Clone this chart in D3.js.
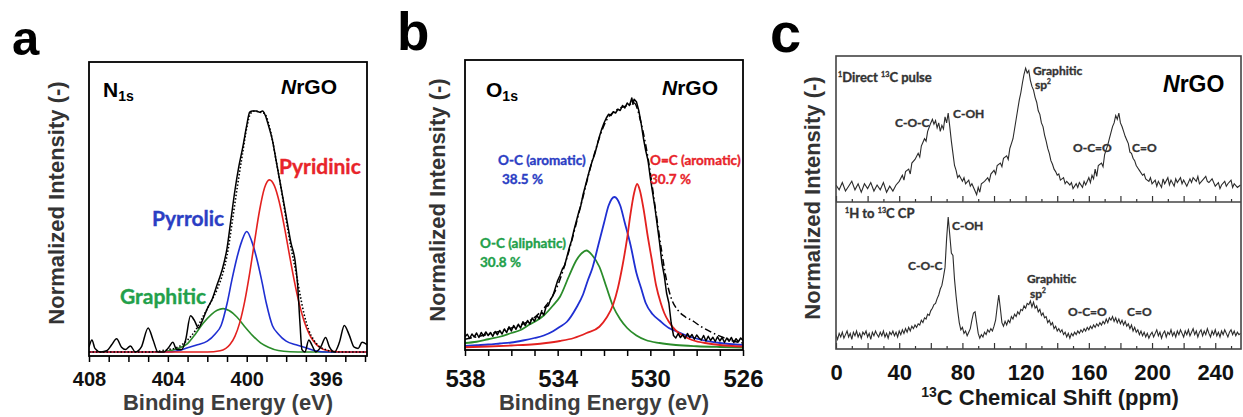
<!DOCTYPE html>
<html lang="en">
<head>
<meta charset="utf-8">
<title>NrGO: N1s / O1s XPS and 13C NMR</title>
<script src="https://cdn.jsdelivr.net/npm/d3@7"></script>
<style>
  body { margin: 0; background: #fff; }
  svg { display: block; }
  .arial { font-family: "Liberation Sans", Arial, sans-serif; font-weight: bold; }
  .cal { font-family: Lato, "Open Sans", sans-serif; font-weight: 700; paint-order: stroke; stroke-width: 0.35px; }
</style>
</head>
<body>
<script>

// ---------- panel a : N1s XPS (binding energy eV, normalized intensity) ----------
let aTicks = [408, 404, 400, 396];
let aExp = [[408.0,0.02],[407.85,0.05],[407.7,0.015],[407.4,0.0],[407.1,0.005],[406.85,0.03],[406.6,0.055],[406.35,0.02],[406.15,0.01],[405.9,0.025],[405.65,0.0],[405.35,0.02],[405.0,0.10],[404.75,0.05],[404.5,0.0],[404.2,0.0],[403.95,0.02],[403.75,0.04],[403.55,0.01],[403.3,0.01],[403.1,0.05],[402.85,0.15],[402.65,0.13],[402.45,0.10],[402.25,0.13],[402.0,0.18],[401.75,0.22],[401.5,0.28],[401.25,0.34],[401.0,0.43],[400.8,0.55],[400.6,0.67],[400.4,0.77],[400.2,0.85],[400.0,0.94],[399.85,0.995],[399.7,1.0],[399.5,1.0],[399.35,0.995],[399.2,1.0],[399.05,0.98],[398.9,0.94],[398.7,0.88],[398.5,0.79],[398.3,0.70],[398.1,0.61],[397.95,0.54],[397.75,0.45],[397.55,0.38],[397.42,0.28],[397.3,0.12],[397.2,0.01],[397.05,0.0],[396.85,0.05],[396.7,0.03],[396.5,0.0],[396.25,0.02],[396.0,0.06],[395.8,0.02],[395.55,0.0],[395.3,0.04],[395.05,0.11],[394.8,0.07],[394.55,0.02],[394.35,0.015],[394.15,0.04],[393.9,0.03]];
let aFit = [[408,0],[405,0],[404,0.01],[403.5,0.02],[403,0.05],[402.6,0.09],[402.2,0.15],[401.8,0.21],[401.5,0.26],[401.2,0.33],[401.0,0.40],[400.7,0.56],[400.45,0.70],[400.2,0.83],[400.0,0.93],[399.8,0.99],[399.6,1.0],[399.35,0.995],[399.1,0.99],[398.9,0.95],[398.7,0.88],[398.5,0.79],[398.3,0.70],[398.1,0.60],[397.9,0.50],[397.7,0.41],[397.5,0.33],[397.3,0.24],[397.1,0.16],[396.85,0.09],[396.6,0.05],[396.35,0.025],[396.0,0.01],[395.5,0],[393.9,0]];
let aPyridinic = [[408,0],[402,0],[401.35,0.005],[400.85,0.031],[400.6,0.065],[400.35,0.123],[400.1,0.211],[399.85,0.327],[399.6,0.460],[399.35,0.587],[399.1,0.680],[398.85,0.714],[398.6,0.690],[398.35,0.622],[398.1,0.523],[397.85,0.410],[397.6,0.300],[397.35,0.205],[397.1,0.131],[396.85,0.078],[396.35,0.022],[395.85,0.005],[395,0],[393.9,0]];
let aPyrrolic = [[408,0],[404,0],[403.5,0.005],[403.0,0.018],[402.5,0.03],[402.0,0.045],[401.6,0.075],[401.3,0.11],[401.0,0.20],[400.75,0.30],[400.5,0.39],[400.25,0.46],[400.0,0.50],[399.75,0.46],[399.5,0.39],[399.25,0.30],[399.0,0.20],[398.7,0.11],[398.4,0.075],[398.0,0.045],[397.5,0.03],[397.0,0.018],[396.5,0.005],[396.0,0],[393.9,0]];
let aGraphitic = [[408,0],[404.5,0],[404,0.004],[403.5,0.015],[403,0.035],[402.6,0.075],[402.2,0.12],[401.8,0.155],[401.5,0.173],[401.2,0.18],[400.9,0.172],[400.5,0.145],[400.1,0.105],[399.7,0.068],[399.3,0.038],[398.9,0.02],[398.4,0.006],[397.8,0.001],[397,0],[393.9,0]];

// ---------- panel b : O1s XPS ----------
let bTicks = [538, 534, 530, 526];
let bExp = [[538.0,0.045],[537.9,0.055],[537.8,0.038],[537.7,0.056],[537.6,0.044],[537.5,0.06],[537.4,0.042],[537.3,0.062],[537.2,0.048],[537.1,0.064],[537.0,0.05],[536.9,0.062],[536.8,0.047],[536.7,0.066],[536.6,0.053],[536.5,0.07],[536.4,0.056],[536.3,0.076],[536.2,0.062],[536.1,0.085],[536.0,0.068],[535.9,0.09],[535.8,0.075],[535.7,0.095],[535.6,0.08],[535.5,0.105],[535.4,0.09],[535.3,0.11],[535.2,0.096],[535.1,0.12],[535.0,0.107],[534.9,0.13],[534.8,0.117],[534.7,0.145],[534.6,0.132],[534.5,0.165],[534.4,0.17],[534.3,0.195],[534.2,0.21],[534.1,0.24],[534.0,0.27],[533.9,0.29],[533.8,0.315],[533.7,0.33],[533.6,0.365],[533.5,0.4],[533.4,0.43],[533.3,0.47],[533.2,0.505],[533.1,0.54],[533.0,0.57],[532.9,0.615],[532.8,0.65],[532.7,0.685],[532.6,0.72],[532.5,0.75],[532.4,0.775],[532.3,0.81],[532.2,0.845],[532.1,0.875],[532.0,0.9],[531.9,0.92],[531.8,0.935],[531.7,0.93],[531.6,0.945],[531.5,0.94],[531.4,0.955],[531.3,0.95],[531.2,0.97],[531.1,0.96],[531.0,0.98],[530.9,0.97],[530.8,1.0],[530.75,0.975],[530.7,0.995],[530.6,0.985],[530.5,0.95],[530.4,0.9],[530.3,0.84],[530.2,0.79],[530.1,0.75],[530.0,0.68],[529.9,0.62],[529.8,0.56],[529.7,0.49],[529.6,0.42],[529.5,0.34],[529.4,0.29],[529.3,0.22],[529.2,0.18],[529.1,0.1],[529.0,0.05],[528.9,0.04],[528.8,0.058],[528.7,0.042],[528.6,0.054],[528.5,0.038],[528.4,0.058],[528.3,0.042],[528.2,0.054],[528.1,0.035],[528.0,0.052],[527.9,0.04],[527.8,0.032],[527.7,0.05],[527.6,0.028],[527.5,0.047],[527.4,0.03],[527.3,0.043],[527.2,0.026],[527.1,0.045],[527.0,0.028],[526.9,0.042],[526.8,0.022],[526.7,0.04],[526.6,0.027],[526.5,0.042],[526.4,0.022],[526.3,0.037],[526.2,0.025],[526.1,0.04],[526.0,0.03]];
let bFit = [[538,0.035],[537,0.055],[536,0.08],[535.3,0.105],[534.9,0.13],[534.5,0.17],[534.0,0.25],[533.6,0.36],[533.0,0.57],[532.5,0.75],[531.9,0.91],[531.5,0.95],[531.0,0.97],[530.7,0.98],[530.4,0.9],[530.1,0.76],[529.8,0.57],[529.5,0.38],[529.3,0.27],[529.1,0.2],[528.8,0.15],[528.5,0.125],[528.2,0.11],[527.8,0.085],[527.3,0.06],[526.8,0.04],[526.3,0.025],[526,0.02]];
let bOCaromatic = [[538,0.008],[537.5,0.011],[537,0.014],[536.5,0.018],[536,0.022],[535.5,0.03],[535,0.04],[534.6,0.05],[534.2,0.067],[533.9,0.085],[533.6,0.105],[533.2,0.16],[532.9,0.215],[532.7,0.27],[532.5,0.32],[532.25,0.41],[532.0,0.50],[531.8,0.57],[531.55,0.604],[531.3,0.57],[531.1,0.50],[530.85,0.41],[530.6,0.30],[530.4,0.24],[530.2,0.18],[529.9,0.135],[529.6,0.11],[529.2,0.08],[528.9,0.068],[528.45,0.05],[527.9,0.035],[527.0,0.02],[526.0,0.012]];
let bOdCaromatic = [[538,0.003],[537,0.006],[536,0.01],[535,0.015],[534.5,0.02],[533.9,0.028],[533.3,0.04],[532.75,0.06],[532.2,0.085],[531.9,0.12],[531.6,0.175],[531.4,0.24],[531.2,0.33],[531.0,0.44],[530.85,0.54],[530.7,0.62],[530.57,0.656],[530.45,0.63],[530.3,0.56],[530.1,0.44],[529.95,0.36],[529.75,0.25],[529.55,0.18],[529.4,0.14],[529.2,0.105],[528.9,0.07],[528.5,0.045],[528.2,0.032],[527.5,0.018],[527,0.012],[526,0.006]];
let bOCaliphatic = [[538,0.02],[537.5,0.025],[537,0.035],[536.5,0.045],[536,0.06],[535.6,0.072],[535.2,0.095],[534.9,0.11],[534.6,0.13],[534.2,0.17],[533.9,0.205],[533.5,0.29],[533.2,0.35],[532.95,0.38],[532.76,0.39],[532.5,0.37],[532.2,0.325],[531.9,0.245],[531.6,0.165],[531.3,0.115],[531.0,0.08],[530.6,0.05],[530.2,0.032],[529.6,0.02],[528.9,0.012],[528,0.007],[527,0.004],[526,0.002]];

// ---------- panel c : 13C NMR (ppm, intensity) ----------
let cTicks = [0, 40, 80, 120, 160, 200, 240];
let cDirect = [[0,0.04],[2,0.0],[4,0.06],[6,-0.01],[8,0.03],[10,0.07],[12,0.0],[14,0.05],[16,-0.02],[18,0.05],[20,0.01],[22,0.06],[24,-0.01],[26,0.04],[28,0.0],[30,0.06],[32,-0.02],[34,0.03],[36,-0.01],[38,0.04],[40,0.07],[42,0.12],[43,0.08],[44,0.15],[46,0.17],[47,0.13],[48,0.22],[50,0.25],[52,0.30],[53,0.27],[54,0.36],[56,0.42],[57,0.40],[58,0.48],[60,0.55],[61,0.58],[62,0.54],[63,0.57],[64,0.51],[65,0.55],[66,0.48],[67,0.53],[68,0.50],[69,0.60],[70,0.55],[71,0.63],[72,0.52],[73,0.40],[74,0.30],[75,0.20],[76,0.16],[77,0.10],[78,0.12],[80,0.07],[81,0.10],[82,0.05],[84,0.08],[85,0.03],[86,0.05],[88,-0.01],[89,-0.04],[90,0.02],[91,-0.02],[92,0.05],[94,0.07],[96,0.10],[97,0.07],[98,0.13],[100,0.16],[101,0.13],[102,0.20],[104,0.22],[105,0.19],[106,0.26],[108,0.28],[109,0.25],[110,0.34],[111,0.38],[112,0.42],[113,0.50],[114,0.58],[115,0.66],[116,0.74],[117,0.80],[118,0.88],[119,0.95],[120,1.0],[121,0.96],[122,0.98],[123,0.90],[124,0.85],[125,0.82],[126,0.76],[127,0.72],[128,0.65],[129,0.62],[130,0.55],[131,0.52],[132,0.45],[133,0.40],[134,0.34],[135,0.30],[136,0.24],[137,0.21],[138,0.17],[139,0.15],[140,0.12],[141,0.13],[142,0.08],[144,0.10],[145,0.05],[146,0.07],[148,0.04],[149,0.06],[150,0.01],[152,0.05],[153,0.02],[154,0.06],[156,0.02],[157,0.07],[158,0.04],[160,0.10],[161,0.06],[162,0.12],[163,0.09],[164,0.17],[165,0.11],[166,0.20],[168,0.22],[169,0.19],[170,0.29],[171,0.33],[172,0.37],[173,0.42],[174,0.47],[175,0.52],[176,0.55],[177,0.61],[178,0.58],[179,0.63],[180,0.55],[181,0.52],[182,0.48],[183,0.44],[184,0.41],[185,0.38],[186,0.31],[187,0.30],[188,0.26],[189,0.24],[190,0.20],[191,0.18],[192,0.16],[194,0.12],[195,0.13],[196,0.09],[198,0.07],[199,0.10],[200,0.05],[202,0.08],[203,0.03],[204,0.07],[206,0.02],[207,0.09],[208,0.05],[210,0.10],[211,0.04],[212,0.08],[214,0.03],[215,0.09],[216,0.06],[218,0.10],[219,0.05],[220,0.08],[222,0.03],[224,0.09],[225,0.06],[226,0.10],[228,0.07],[229,0.11],[230,0.05],[232,0.08],[234,0.11],[235,0.07],[236,0.06],[238,0.09],[240,0.03],[242,0.06],[243,0.01],[244,0.04],[246,0.07],[247,0.03],[248,0.05],[250,0.08],[251,0.02],[252,0.05],[254,0.02],[256,0.04]];
let cCP = [[0,0.02],[1,-0.02],[2,0.03],[3,0.0],[4,0.04],[5,-0.01],[6,0.02],[7,0.05],[8,0.0],[9,0.03],[10,-0.02],[11,0.04],[12,0.01],[13,0.05],[14,0.0],[15,0.03],[16,-0.01],[17,0.04],[18,0.02],[19,0.05],[20,0.0],[21,0.03],[22,-0.02],[23,0.04],[24,0.01],[25,0.05],[26,0.02],[27,0.0],[28,0.04],[29,0.01],[30,0.05],[31,0.0],[32,0.03],[33,-0.01],[34,0.04],[35,0.02],[36,0.05],[37,0.01],[38,0.04],[39,0.0],[40,0.05],[41,0.02],[42,0.06],[43,0.03],[44,0.07],[45,0.04],[46,0.08],[47,0.05],[48,0.09],[49,0.07],[50,0.10],[51,0.08],[52,0.11],[53,0.10],[54,0.14],[55,0.12],[56,0.16],[57,0.15],[58,0.19],[59,0.18],[60,0.22],[61,0.24],[62,0.27],[63,0.28],[64,0.32],[65,0.35],[66,0.40],[67,0.43],[68,0.50],[69,0.58],[70,0.82],[71,1.0],[72,0.85],[73,0.70],[74,0.68],[75,0.48],[76,0.34],[77,0.22],[78,0.12],[79,0.06],[80,0.08],[81,0.03],[82,0.05],[83,0.01],[84,0.04],[85,0.07],[86,0.14],[87,0.20],[88,0.21],[89,0.12],[90,0.03],[91,-0.01],[92,0.02],[93,0.0],[94,0.04],[95,0.02],[96,0.06],[97,0.04],[98,0.07],[99,0.05],[100,0.09],[101,0.14],[102,0.25],[103,0.35],[104,0.24],[105,0.12],[106,0.09],[107,0.13],[108,0.10],[109,0.14],[110,0.12],[111,0.17],[112,0.15],[113,0.19],[114,0.17],[115,0.21],[116,0.19],[117,0.23],[118,0.22],[119,0.26],[120,0.24],[121,0.28],[122,0.27],[123,0.30],[124,0.25],[125,0.29],[126,0.24],[127,0.26],[128,0.21],[129,0.23],[130,0.18],[131,0.20],[132,0.16],[133,0.17],[134,0.12],[135,0.14],[136,0.10],[137,0.12],[138,0.07],[139,0.09],[140,0.05],[141,0.07],[142,0.04],[143,0.06],[144,0.02],[145,0.04],[146,0.0],[147,0.03],[148,-0.01],[149,0.03],[150,0.01],[151,0.04],[152,0.02],[153,0.05],[154,0.03],[155,0.06],[156,0.04],[157,0.07],[158,0.05],[159,0.08],[160,0.06],[161,0.09],[162,0.07],[163,0.10],[164,0.08],[165,0.11],[166,0.09],[167,0.12],[168,0.10],[169,0.13],[170,0.11],[171,0.15],[172,0.12],[173,0.16],[174,0.14],[175,0.17],[176,0.13],[177,0.16],[178,0.12],[179,0.15],[180,0.11],[181,0.14],[182,0.10],[183,0.13],[184,0.09],[185,0.11],[186,0.07],[187,0.10],[188,0.05],[189,0.08],[190,0.04],[191,0.06],[192,0.02],[193,0.05],[194,0.01],[195,0.04],[196,0.0],[197,0.03],[198,-0.01],[199,0.02],[200,0.04],[201,0.0],[202,0.03],[203,0.06],[204,0.01],[205,0.04],[206,-0.01],[207,0.03],[208,0.05],[209,0.0],[210,0.04],[211,0.02],[212,0.06],[213,0.01],[214,0.04],[215,0.0],[216,0.05],[217,0.02],[218,0.06],[219,0.03],[220,0.0],[221,0.05],[222,0.02],[223,0.06],[224,0.01],[225,0.04],[226,0.07],[227,0.02],[228,0.05],[229,0.0],[230,0.04],[231,0.06],[232,0.01],[233,0.05],[234,0.02],[235,0.07],[236,0.03],[237,0.0],[238,0.05],[239,0.02],[240,0.06],[241,0.01],[242,0.04],[243,0.0],[244,0.05],[245,0.02],[246,0.06],[247,0.03],[248,0.0],[249,0.04],[250,0.06],[251,0.02],[252,0.05],[253,0.01],[254,0.04],[255,0.02],[256,0.03]];

// ---------- colours ----------
let red = "#e3211f", blue = "#1f2fd2", green = "#2a8c2a";
let redTxt = "#e8242a", blueTxt = "#2b3ec4", greenTxt = "#22a04a";

//Create SVG element
let svg = d3.select("body").append("svg")
            .attr("width", 1243)
            .attr("height", 417);

let defs = svg.append("defs");

function clip(id, x, y, w, h) {
  defs.append("clipPath").attr("id", id)
      .append("rect").attr("x", x).attr("y", y).attr("width", w).attr("height", h);
}

function addText(x, y, size, cls, fill) {
  let t = svg.append("text").attr("x", x).attr("y", y)
             .attr("class", cls).attr("font-size", size).attr("fill", fill || "#000");
  if (cls == "cal") t.attr("stroke", fill || "#000");
  return t;
}

function yTitle(cx, cy, color) {
  svg.append("text").attr("class", "arial").attr("font-size", 22)
     .attr("fill", color).attr("text-anchor", "middle").attr("dy", "0.35em")
     .attr("transform", `translate(${cx},${cy}) rotate(-90)`)
     .text("Normalized Intensity (-)");
}

// ================= panel a / b helper =================
function xpsPanel(p) {
  let x = d3.scaleLinear().domain(p.xDomain).range([p.left, p.right]);
  let y = d3.scaleLinear().domain(p.yDomain).range([p.bottom, p.top]);
  clip(p.id, p.left, p.top, p.right - p.left, p.bottom - p.top);

  let g = svg.append("g").attr("clip-path", `url(#${p.id})`);
  let line = d3.line().x(d => x(d[0])).y(d => y(d[1]));

  p.series.forEach(s => {
    g.append("path")
     .attr("d", line.curve(s.curve || d3.curveMonotoneX)(s.data))
     .attr("fill", "none")
     .attr("stroke", s.color)
     .attr("stroke-width", s.width || 1.6)
     .attr("stroke-dasharray", s.dash || null)
     .attr("stroke-linejoin", "round");
  });

  //minor ticks (every eV) and major ticks
  let lo = Math.min(...p.xDomain), hi = Math.max(...p.xDomain);
  svg.append("g").attr("transform", `translate(0,${p.bottom})`)
     .call(d3.axisBottom(x).tickValues(d3.range(Math.ceil(lo), hi + 0.01, 1)).tickSize(6).tickFormat(""))
     .call(a => a.select(".domain").remove())
     .selectAll("line").attr("stroke", "#000").attr("stroke-width", 1.5);

  svg.append("g").attr("transform", `translate(0,${p.bottom})`)
     .call(d3.axisBottom(x).tickValues(p.ticks).tickSize(0).tickPadding(p.labelPad).tickFormat(d3.format("d")))
     .call(a => a.select(".domain").remove())
     .selectAll("text").attr("class", "arial").attr("font-size", p.labelSize).attr("fill", "#111");

  svg.append("rect").attr("x", p.left).attr("y", p.top)
     .attr("width", p.right - p.left).attr("height", p.bottom - p.top)
     .attr("fill", "none").attr("stroke", "#000").attr("stroke-width", 1.8);

  addText((p.left + p.right) / 2, 410, 22, "arial", "#3d3d3d")
     .attr("text-anchor", "middle").text("Binding Energy (eV)");
}

// ---------- panel a ----------
xpsPanel({
  id: "clipA", left: 89, right: 367, top: 62, bottom: 356,
  xDomain: [408, 393.9], yDomain: [-0.0166, 1.203],
  ticks: aTicks, labelSize: 20, labelPad: 16,
  series: [
    {data: aGraphitic, color: green},
    {data: aPyrrolic, color: blue},
    {data: aPyridinic, color: red},
    {data: aFit, color: "#000", width: 1.6, dash: "1.5,2"},
    {data: aExp, color: "#000", width: 1.5}
  ]
});
addText(12, 55, 49, "arial").text("a");
yTitle(56, 203, "#333");
let n1s = addText(103, 97, 21, "arial");
n1s.append("tspan").text("N");
n1s.append("tspan").attr("font-size", 14).attr("dy", 4).text("1s");
let ngA = addText(281, 94, 21, "arial");
ngA.append("tspan").attr("font-style", "italic").text("N");
ngA.append("tspan").text("rGO");
addText(279, 174, 21, "cal", redTxt).text("Pyridinic");
addText(152, 226, 21, "cal", blueTxt).text("Pyrrolic");
addText(120, 304, 21, "cal", greenTxt).text("Graphitic");

// ---------- panel b ----------
xpsPanel({
  id: "clipB", left: 465, right: 743, top: 60, bottom: 350,
  xDomain: [538, 526], yDomain: [-0.008, 1.152],
  ticks: bTicks, labelSize: 24, labelPad: 20,
  series: [
    {data: bOCaliphatic, color: green, width: 1.8},
    {data: bOCaromatic, color: blue, width: 1.8},
    {data: bOdCaromatic, color: red, width: 1.8},
    {data: bFit, color: "#000", width: 1.5, dash: "7,3,1.5,3"},
    {data: bExp, color: "#000", width: 1.5, curve: d3.curveLinear}
  ]
});
addText(397, 50, 53, "arial").text("b");
yTitle(437, 200, "#333");
let o1s = addText(486, 97, 21, "arial");
o1s.append("tspan").text("O");
o1s.append("tspan").attr("font-size", 14).attr("dy", 4).text("1s");
let ngB = addText(662, 95, 21, "arial");
ngB.append("tspan").attr("font-style", "italic").text("N");
ngB.append("tspan").text("rGO");
addText(498, 165, 13.5, "cal", blueTxt).text("O-C (aromatic)");
addText(502, 184, 13.5, "cal", blueTxt).text("38.5 %");
addText(650, 165, 13.5, "cal", redTxt).text("O=C (aromatic)");
addText(650, 184, 13.5, "cal", redTxt).text("30.7 %");
addText(480, 248, 13.5, "cal", greenTxt).text("O-C (aliphatic)");
addText(480, 267, 13.5, "cal", greenTxt).text("30.8 %");

// ================= panel c =================
let cl = 836, cr = 1241, ct = 56, cm = 202, cb = 349;
let xc = d3.scaleLinear().domain([0, 256.3]).range([cl, cr]);
let yTop = d3.scaleLinear().domain([-0.1, 1.1]).range([cm, ct]);
let yBot = d3.scaleLinear().domain([-0.1, 1.125]).range([cb, cm]);
clip("clipC1", cl, ct, cr - cl, cm - ct);
clip("clipC2", cl, cm, cr - cl, cb - cm);

svg.append("path").attr("clip-path", "url(#clipC1)")
   .attr("d", d3.line().x(d => xc(d[0])).y(d => yTop(d[1]))(cDirect))
   .attr("fill", "none").attr("stroke", "#2b2b2b").attr("stroke-width", 1.1);
svg.append("path").attr("clip-path", "url(#clipC2)")
   .attr("d", d3.line().x(d => xc(d[0])).y(d => yBot(d[1]))(cCP))
   .attr("fill", "none").attr("stroke", "#2b2b2b").attr("stroke-width", 1.1);

//inward ticks on divider and bottom axis
[cm, cb].forEach(yy => {
  svg.append("g").attr("transform", `translate(0,${yy})`)
     .call(d3.axisBottom(xc).tickValues(d3.range(10, 251, 20)).tickSize(-3).tickFormat(""))
     .call(a => a.select(".domain").remove())
     .selectAll("line").attr("stroke", "#333").attr("stroke-width", 1.2);
  svg.append("g").attr("transform", `translate(0,${yy})`)
     .call(d3.axisBottom(xc).tickValues(d3.range(0, 251, 20)).tickSize(-6).tickFormat(""))
     .call(a => a.select(".domain").remove())
     .selectAll("line").attr("stroke", "#333").attr("stroke-width", 1.2);
});

svg.append("g").attr("transform", `translate(0,${cb})`)
   .call(d3.axisBottom(xc).tickValues(cTicks).tickSize(0).tickPadding(15).tickFormat(d3.format("d")))
   .call(a => a.select(".domain").remove())
   .selectAll("text").attr("class", "arial").attr("font-size", 22).attr("fill", "#111");

svg.append("rect").attr("x", cl).attr("y", ct).attr("width", cr - cl).attr("height", cb - ct)
   .attr("fill", "none").attr("stroke", "#444").attr("stroke-width", 1.6);
svg.append("line").attr("x1", cl).attr("x2", cr).attr("y1", cm).attr("y2", cm)
   .attr("stroke", "#444").attr("stroke-width", 1.6);

addText(770, 52, 56, "arial").text("c");
yTitle(812, 198, "#333");
let ngC = addText(1163, 92, 23, "arial");
ngC.append("tspan").attr("font-style", "italic").text("N");
ngC.append("tspan").text("rGO");

let xt = addText(1050, 405, 22, "arial", "#1a1a1a").attr("text-anchor", "middle");
xt.append("tspan").attr("font-size", 14).attr("dy", -8).text("13");
xt.append("tspan").attr("dy", 8).text("C Chemical Shift (ppm)");

function sup(x, y, parts, size) {
  let t = addText(x, y, size, "cal", "#333");
  parts.forEach(pt => {
    if (pt.sup) t.append("tspan").attr("font-size", size * 0.55).attr("dy", -size * 0.4).text(pt.sup);
    else t.append("tspan").attr("dy", pt.after ? size * 0.4 : 0).text(pt.t);
  });
  return t;
}
sup(838, 82, [{sup: "1"}, {t: "Direct ", after: true}, {sup: "13"}, {t: "C pulse", after: true}], 13);
sup(845, 218, [{sup: "1"}, {t: "H to ", after: true}, {sup: "13"}, {t: "C CP", after: true}], 13);

let cSize = 12;
addText(1033, 75, cSize, "cal", "#333").text("Graphitic");
sup(1035, 89, [{t: "sp"}, {sup: "2"}], cSize);
addText(895, 127, cSize, "cal", "#333").text("C-O-C");
addText(953, 118, cSize, "cal", "#333").text("C-OH");
addText(1073, 152, cSize, "cal", "#333").text("O-C=O");
addText(1132, 152, cSize, "cal", "#333").text("C=O");

addText(952, 230, cSize, "cal", "#333").text("C-OH");
addText(908, 270, cSize, "cal", "#333").text("C-O-C");
addText(1027, 283, cSize, "cal", "#333").text("Graphitic");
sup(1030, 298, [{t: "sp"}, {sup: "2"}], cSize);
addText(1068, 316, cSize, "cal", "#333").text("O-C=O");
addText(1127, 316, cSize, "cal", "#333").text("C=O");

</script>
</body>
</html>
